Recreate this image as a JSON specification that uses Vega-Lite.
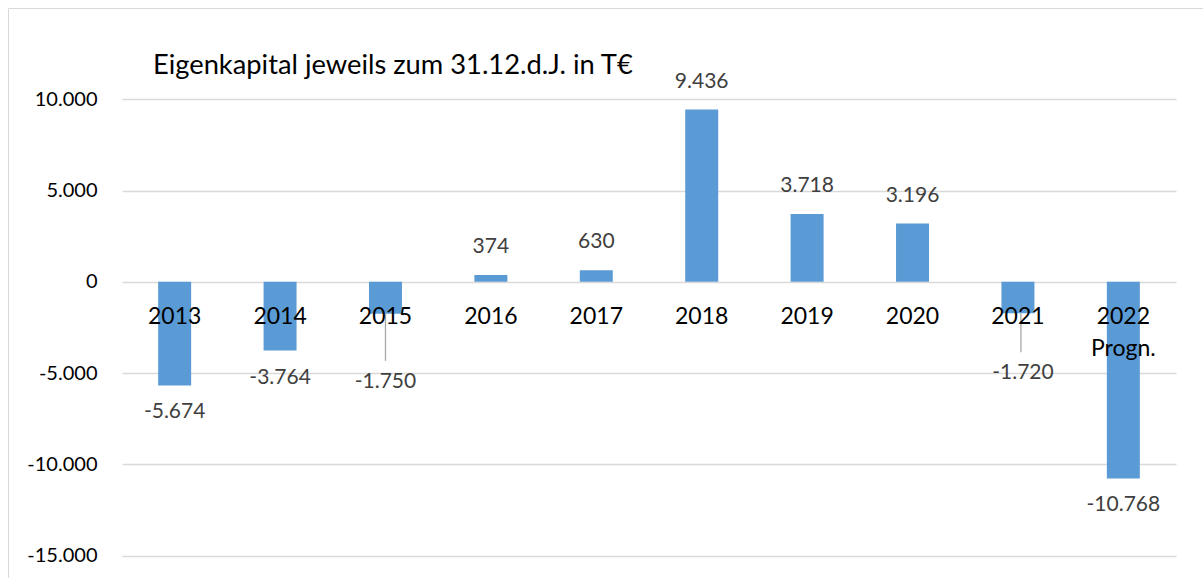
{
  "$schema": "https://vega.github.io/schema/vega-lite/v6.json",
  "autosize": {"type": "none"},
  "padding": {"left": 8, "top": 8, "right": 0, "bottom": 0},
  "width": 1282,
  "height": 639,
  "background": "white",
  "config": {
    "font": "Lato",
    "view": {"stroke": "#d9d9d9", "strokeWidth": 1},
    "locale": {"number": {"decimal": ",", "thousands": ".", "grouping": [3], "currency": ["", " €"], "minus": "-"}}
  },
  "title": {
    "text": "Eigenkapital jeweils zum 31.12.d.J. in T€",
    "anchor": "start",
    "frame": "group",
    "orient": "top",
    "baseline": "alphabetic",
    "offset": 0,
    "dx": 145,
    "dy": 93,
    "fontSize": 27.3,
    "fontWeight": "normal",
    "color": "#000000",
    "font": "Lato"
  },
  "data": {
    "values": [
      {"year": "2013", "value": -5674},
      {"year": "2014", "value": -3764},
      {"year": "2015", "value": -1750},
      {"year": "2016", "value": 374},
      {"year": "2017", "value": 630},
      {"year": "2018", "value": 9436},
      {"year": "2019", "value": 3718},
      {"year": "2020", "value": 3196},
      {"year": "2021", "value": -1720},
      {"year": "2022", "value": -10768}
    ]
  },
  "encoding": {
    "x": {
      "field": "year",
      "type": "nominal",
      "sort": null,
      "scale": {"range": [114, 1168], "paddingInner": 0.687, "paddingOuter": 0.343},
      "axis": {
        "title": null,
        "domain": false,
        "ticks": false,
        "grid": false,
        "zindex": 2,
        "labelAngle": 0,
        "labelBaseline": "top",
        "labelPadding": -342,
        "labelFontSize": 23,
        "labelColor": "#000000",
        "labelFont": "Lato",
        "labelLineHeight": 32,
        "labelExpr": "datum.value == '2022' ? ['2022', 'Progn.'] : datum.label"
      }
    },
    "y": {
      "field": "value",
      "type": "quantitative",
      "scale": {"domain": [-20000, 15000], "nice": false, "zero": false},
      "axis": {
        "title": null,
        "values": [-15000, -10000, -5000, 0, 5000, 10000],
        "domain": false,
        "ticks": false,
        "grid": true,
        "gridColor": "#d9d9d9",
        "gridWidth": 1.5,
        "format": ",d",
        "labelAlign": "right",
        "labelBaseline": "middle",
        "labelPadding": -89,
        "labelFontSize": 20,
        "labelColor": "#000000",
        "labelFont": "Lato"
      }
    }
  },
  "layer": [
    {"mark": {"type": "bar", "color": "#5b9bd5"}},
    {
      "transform": [{"filter": "datum.year == '2015'"}],
      "mark": {"type": "rule", "color": "#a6a6a6", "strokeWidth": 1.3, "y2Offset": 47},
      "encoding": {"y2": {"field": "value"}}
    },
    {
      "transform": [{"filter": "datum.year == '2021'"}],
      "mark": {"type": "rule", "color": "#a6a6a6", "strokeWidth": 1.3, "xOffset": 3, "y2Offset": 39},
      "encoding": {"y2": {"field": "value"}}
    },
    {
      "transform": [{"filter": "datum.value >= 0"}],
      "mark": {"type": "text", "dy": -28, "baseline": "middle", "fontSize": 21, "color": "#404040", "font": "Lato"},
      "encoding": {"text": {"field": "value", "type": "quantitative", "format": ",d"}}
    },
    {
      "transform": [{"filter": "datum.value < 0 && datum.year != '2015' && datum.year != '2021'"}],
      "mark": {"type": "text", "dy": 27, "baseline": "middle", "fontSize": 21, "color": "#404040", "font": "Lato"},
      "encoding": {"text": {"field": "value", "type": "quantitative", "format": ",d"}}
    },
    {
      "transform": [{"filter": "datum.year == '2015'"}],
      "mark": {"type": "text", "dy": 68, "baseline": "middle", "fontSize": 21, "color": "#404040", "font": "Lato"},
      "encoding": {"text": {"field": "value", "type": "quantitative", "format": ",d"}}
    },
    {
      "transform": [{"filter": "datum.year == '2021'"}],
      "mark": {"type": "text", "dy": 60, "dx": 5, "baseline": "middle", "fontSize": 21, "color": "#404040", "font": "Lato"},
      "encoding": {"text": {"field": "value", "type": "quantitative", "format": ",d"}}
    }
  ]
}
